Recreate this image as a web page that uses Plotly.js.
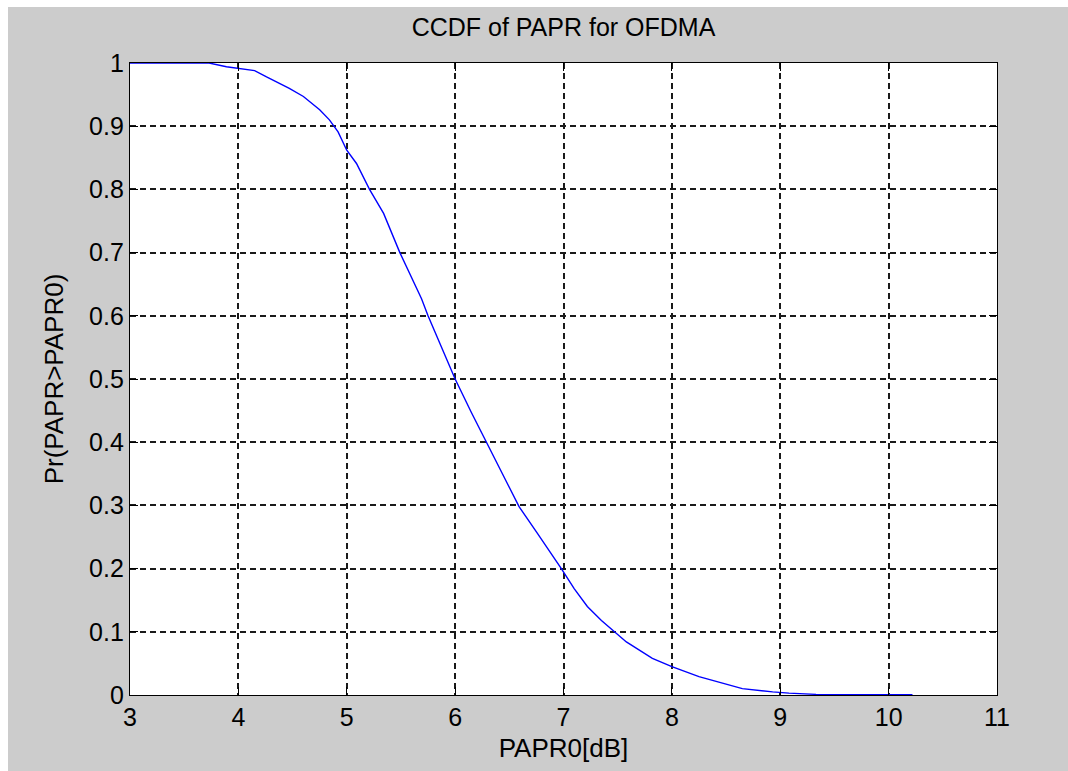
<!DOCTYPE html>
<html>
<head>
<meta charset="utf-8">
<script src="https://cdn.plot.ly/plotly-3.0.1.min.js"></script>
<style>
html,body{margin:0;padding:0;background:#ffffff;width:1068px;height:771px;overflow:hidden;}
#plot{position:absolute;left:8px;top:7px;width:1060px;height:764px;}
</style>
</head>
<body>
<div id="plot"></div>
<script>
// PAPR0 threshold in dB
var papr0 = [3, 3.5, 3.73, 3.89, 4.15, 4.26, 4.47, 4.6, 4.75, 4.84, 4.92, 5.0, 5.09, 5.21, 5.34, 5.49, 5.69, 5.75, 6.0, 6.15, 6.3, 6.45, 6.59, 6.75, 6.87, 6.98, 7.1, 7.22, 7.35, 7.47, 7.58, 7.82, 8.0, 8.25, 8.5, 8.65, 8.93, 9.08, 9.33, 9.6, 10.22];
// CCDF values Pr(PAPR > PAPR0)
var ccdf = [1, 1, 1, 0.994, 0.988, 0.978, 0.96, 0.947, 0.926, 0.91, 0.891, 0.862, 0.841, 0.80, 0.762, 0.70, 0.627, 0.60, 0.50, 0.447, 0.397, 0.345, 0.298, 0.258, 0.228, 0.20, 0.168, 0.14, 0.118, 0.10, 0.084, 0.058, 0.045, 0.029, 0.017, 0.010, 0.005, 0.003, 0.001, 0.001, 0.0005];

var titleText = "CCDF of PAPR for OFDMA";
var xLabel = "PAPR0[dB]";
var yLabel = "Pr(PAPR>PAPR0)";

var font = "Liberation Sans, Arial, sans-serif";

var trace = {
  x: papr0, y: ccdf, type: "scatter", mode: "lines",
  line: {color: "#0000ff", width: 1.4},
  hoverinfo: "none"
};

var axisCommon = {
  showline: true, linecolor: "#000000", linewidth: 1.2, mirror: "ticks",
  ticks: "inside", ticklen: 8, tickcolor: "#000000", tickwidth: 1,
  showgrid: true, gridcolor: "#1a1a1a", gridwidth: 2, griddash: "6px,4px",
  zeroline: false,
  tickfont: {family: font, size: 25, color: "#000000"}
};

var layout = {
  width: 1060, height: 764,
  margin: {l: 122, r: 71, t: 56, b: 76, pad: 0},
  paper_bgcolor: "#cccccc",
  plot_bgcolor: "#ffffff",
  showlegend: false,
  title: {text: titleText, font: {family: font, size: 25, color: "#000000"}, x: 0.5, xref: "paper", y: 0.973, yanchor: "middle"},
  xaxis: Object.assign({}, axisCommon, {
    range: [3, 11], dtick: 1, tick0: 3,
    title: {text: xLabel, font: {family: font, size: 26, color: "#000000"}, standoff: 8}
  }),
  yaxis: Object.assign({}, axisCommon, {
    range: [0, 1], dtick: 0.1, tick0: 0,
    title: {text: yLabel, font: {family: font, size: 26, color: "#000000"}, standoff: 18}
  })
};

Plotly.newPlot("plot", [trace], layout, {displayModeBar: false, staticPlot: true});
</script>
</body>
</html>
